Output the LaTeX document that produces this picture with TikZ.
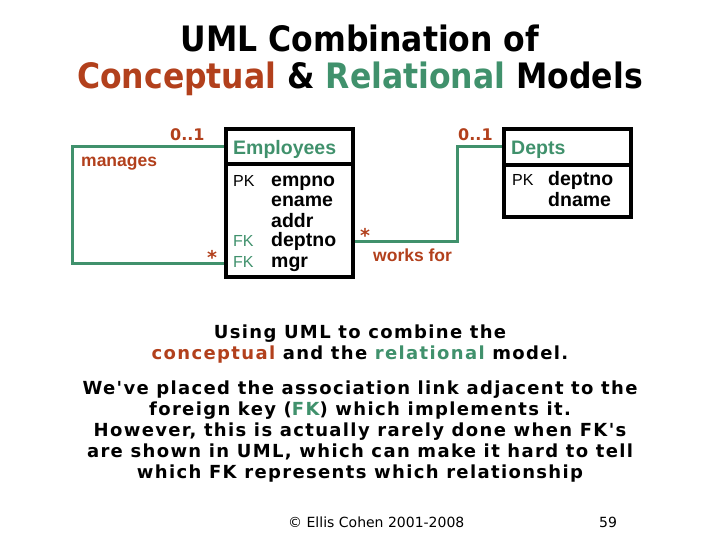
\documentclass[tikz,border=0pt]{standalone}
\usepackage{fontspec}
\setmainfont{Liberation Sans}
\newfontfamily\dv{DejaVu Sans}
\newfontfamily\dvs{DejaVu Sans}[LetterSpace=7.5]
\newfontfamily\dvc{DejaVu Sans Condensed}
\definecolor{brn}{RGB}{178,64,28}
\definecolor{grn}{RGB}{64,145,108}
\tikzset{
  box/.style={draw=black,line width=3.5pt},
  link/.style={draw=grn,line width=3pt},
  lbl/.style={inner sep=0pt,anchor=base west},
  mult/.style={lbl,text=brn,font=\dv\bfseries\fontsize{16}{16}\selectfont},
  star/.style={lbl,text=brn,font=\dv\bfseries\fontsize{19}{19}\selectfont},
  assoc/.style={lbl,text=brn,font=\bfseries\fontsize{17.5}{17.5}\selectfont},
  attr/.style={lbl,font=\bfseries\fontsize{19.5}{19.5}\selectfont},
  key/.style={lbl,font=\fontsize{16}{16}\selectfont},
  tname/.style={lbl,text=grn,font=\bfseries\fontsize{19.5}{19.5}\selectfont},
  ttl/.style={inner sep=0pt,anchor=base,font=\dvc\bfseries\fontsize{35}{35}\selectfont},
  body/.style={inner sep=0pt,anchor=base,font=\dvs\bfseries\fontsize{18}{18}\selectfont},
}
\begin{document}
\begin{tikzpicture}[x=1pt,y=-1pt]
\useasboundingbox (0,0) rectangle (720,540);
% title
\node[ttl] (t1) at (360,52) {UML Combination of};
\node[ttl] (t2) at (360,89) {\textcolor{brn}{Conceptual} \& \textcolor{grn}{Relational} Models};
% Employees box
\draw[box] (226,129) rectangle (353,277);
\draw[box] (226,164) -- (353,164);
\node[tname] (emp) at (233,155) {Employees};
\node[key] (pk1) at (233,187) {PK};
\node[attr] (a1) at (271,187) {empno};
\node[attr] (a2) at (271,207) {ename};
\node[attr] (a3) at (271,227) {addr};
\node[key,text=grn] (fk1) at (233,247) {FK};
\node[attr] (a4) at (271,247) {deptno};
\node[key,text=grn] (fk2) at (233,267) {FK};
\node[attr] (a5) at (271,267) {mgr};
% Depts box
\draw[box] (504,129) rectangle (631,217);
\draw[box] (504,165) -- (631,165);
\node[tname] (dep) at (511,155) {Depts};
\node[key] (pk2) at (512,186) {PK};
\node[attr] (d1) at (548,186) {deptno};
\node[attr] (d2) at (548,207) {dname};
% manages link
\coordinate (m1) at (224,147);
\coordinate (m2) at (72,147);
\coordinate (m3) at (72,263);
\coordinate (m4) at (224,263);
\draw[link] (m1) -- (m2) -- (m3) -- (m4);
\node[mult] (mm1) at (170,141) {0..1};
\node[assoc] (man) at (81,167) {manages};
\node[star] (ms1) at (207,264) {*};
% works for link
\coordinate (w1) at (355,241);
\coordinate (w2) at (457,241);
\coordinate (w3) at (457,147);
\coordinate (w4) at (502,147);
\draw[link] (w1) -- (w2) -- (w3) -- (w4);
\node[star] (ws1) at (360,242) {*};
\node[assoc] (wf) at (373,261) {works for};
\node[mult] (wm1) at (458,141) {0..1};
% body text
\node[body] (b1) at (360,338) {Using UML to combine the};
\node[body] (b2) at (360,359) {\textcolor{brn}{conceptual} and the \textcolor{grn}{relational} model.};
\node[body] (p1) at (360,394) {We've placed the association link adjacent to the};
\node[body] (p2) at (360,415) {foreign key (\textcolor{grn}{FK}) which implements it.};
\node[body] (p3) at (360,436) {However, this is actually rarely done when FK's};
\node[body] (p4) at (360,457) {are shown in UML, which can make it hard to tell};
\node[body] (p5) at (360,478) {which FK represents which relationship};
% footer
\node[inner sep=0pt,anchor=base west,font=\dv\fontsize{14}{14}\selectfont] (f1) at (288,527) {© Ellis Cohen 2001-2008};
\node[inner sep=0pt,anchor=base,font=\dv\fontsize{14}{14}\selectfont] (f2) at (608,527) {59};
\end{tikzpicture}
\end{document}
